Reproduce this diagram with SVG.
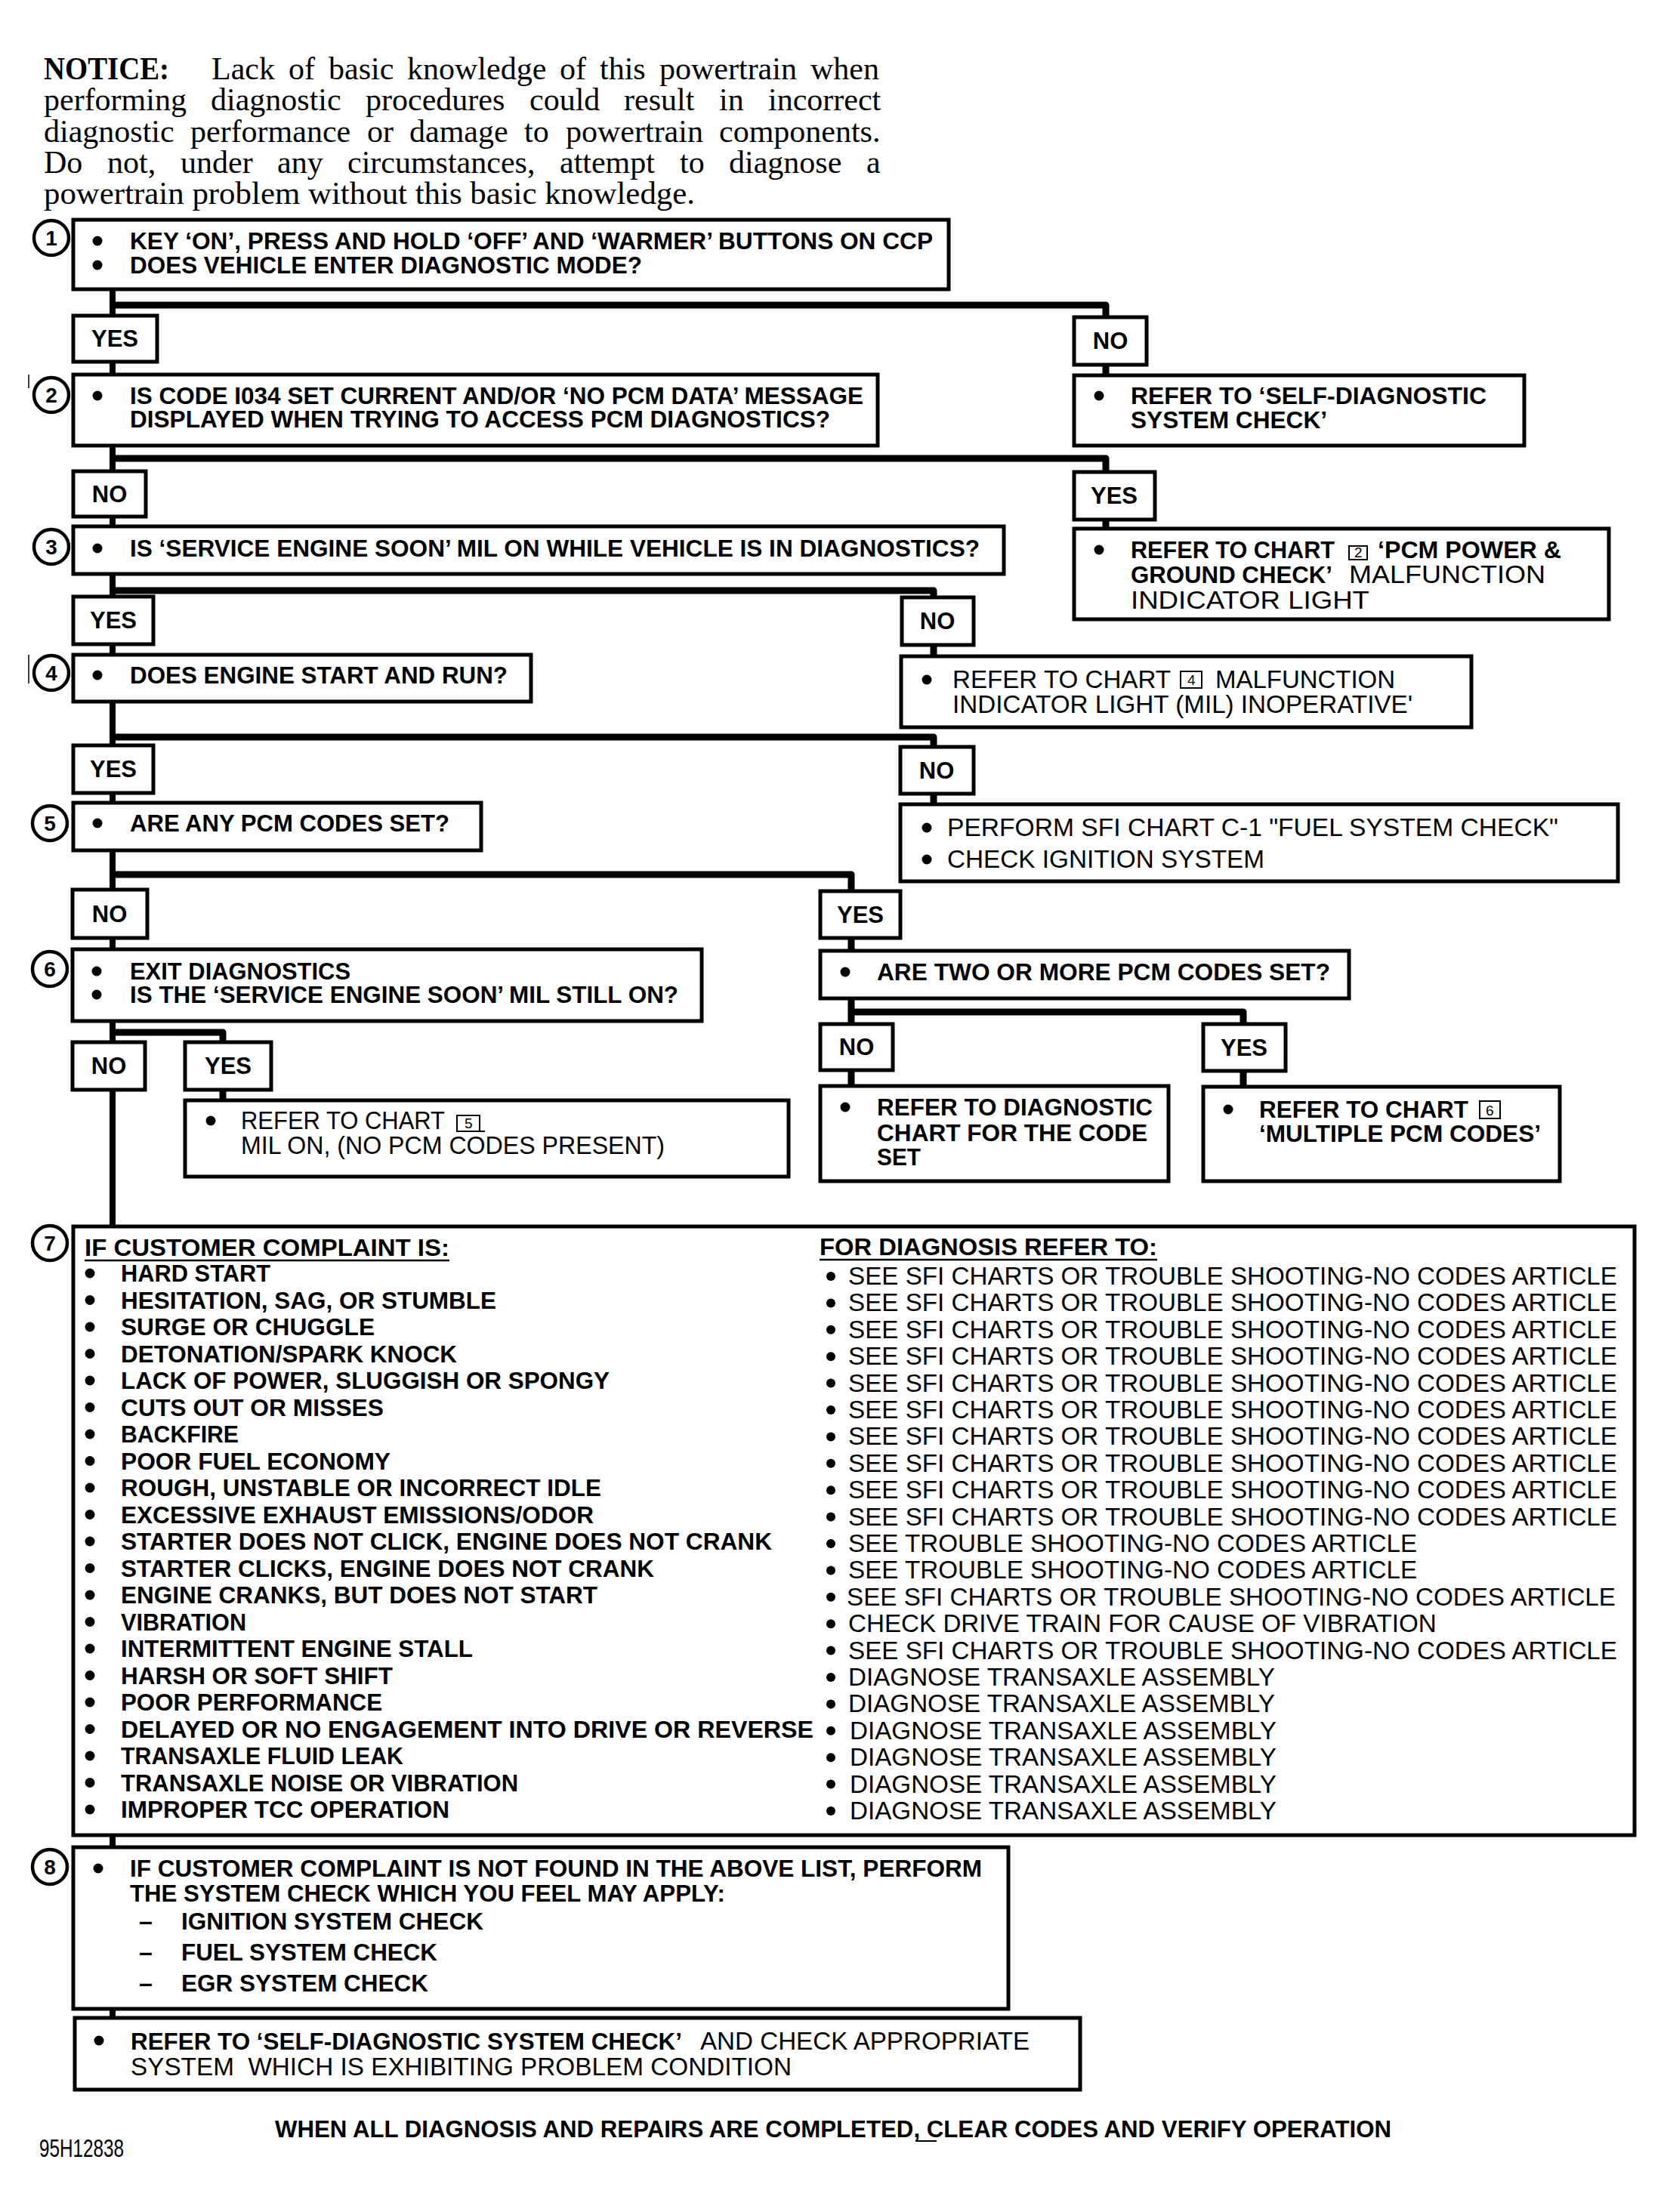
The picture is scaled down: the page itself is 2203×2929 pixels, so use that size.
<svg xmlns="http://www.w3.org/2000/svg" width="2203" height="2929" viewBox="0 0 2203 2929">
<style>
.bx{fill:#fff;stroke:#000;stroke-width:5}
.cn{fill:none;stroke:#000;stroke-width:9;stroke-linejoin:round}
.ci{fill:#fff;stroke:#000;stroke-width:4.5}
.b{font-family:"Liberation Sans",Arial,sans-serif;font-weight:bold;font-size:32px}
.r{font-family:"Liberation Sans",Arial,sans-serif;font-weight:normal;font-size:33px}
.rl{font-family:"Liberation Sans",Arial,sans-serif;font-weight:normal;font-size:33.2px}
.dg{font-family:"Liberation Sans",Arial,sans-serif;font-weight:normal;font-size:19px}
.lb{font-family:"Liberation Sans",Arial,sans-serif;font-weight:bold;font-size:31px;text-anchor:middle}
.nm{font-family:"Liberation Sans",Arial,sans-serif;font-weight:bold;font-size:28px;text-anchor:middle}
.s{font-family:"Liberation Serif","Times New Roman",serif;font-size:42px}
.sb{font-weight:bold}
.cb{fill:#fff;stroke:#000;stroke-width:2}
</style>
<rect width="2203" height="2929" fill="#fff"/>

<g id="notice">
<text class="s"><tspan class="sb" x="58" y="105" textLength="166" lengthAdjust="spacingAndGlyphs">NOTICE:</tspan><tspan x="280" y="105">Lack</tspan><tspan x="382" y="105">of</tspan><tspan x="435" y="105">basic</tspan><tspan x="539" y="105">knowledge</tspan><tspan x="741" y="105">of</tspan><tspan x="794" y="105">this</tspan><tspan x="873" y="105">powertrain</tspan><tspan x="1073" y="105">when</tspan><tspan x="58" y="146">performing</tspan><tspan x="279" y="146">diagnostic</tspan><tspan x="484" y="146">procedures</tspan><tspan x="701" y="146">could</tspan><tspan x="826" y="146">result</tspan><tspan x="952" y="146">in</tspan><tspan x="1017" y="146">incorrect</tspan><tspan x="58" y="188">diagnostic</tspan><tspan x="252" y="188">performance</tspan><tspan x="486" y="188">or</tspan><tspan x="542" y="188">damage</tspan><tspan x="694" y="188">to</tspan><tspan x="749" y="188">powertrain</tspan><tspan x="952" y="188">components.</tspan><tspan x="58" y="229">Do</tspan><tspan x="142" y="229">not,</tspan><tspan x="239" y="229">under</tspan><tspan x="367" y="229">any</tspan><tspan x="460" y="229">circumstances,</tspan><tspan x="741" y="229">attempt</tspan><tspan x="900" y="229">to</tspan><tspan x="965" y="229">diagnose</tspan><tspan x="1147" y="229">a</tspan><tspan x="58" y="270" textLength="862" lengthAdjust="spacingAndGlyphs">powertrain problem without this basic knowledge.</tspan></text>
</g>

<g id="connectors">
<path d="M149,383 V2672" fill="none" stroke="#000" stroke-width="8"/>
<path class="cn" d="M149,404 H1464 V497"/>
<path class="cn" d="M149,607 H1464 V700"/>
<path class="cn" d="M149,782 H1236 V869"/>
<path class="cn" d="M149,976 H1236 V1065"/>
<path class="cn" d="M149,1158 H1127 V1438"/>
<path class="cn" d="M1127,1340 H1646 V1439"/>
<path class="cn" d="M149,1367 H295 V1457"/>
</g>

<g id="marks">
<line x1="38" y1="496" x2="38" y2="514" stroke="#000" stroke-width="1.5"/>
<line x1="38" y1="867" x2="38" y2="905" stroke="#000" stroke-width="1.5"/>
</g>

<g id="step1">
<circle class="ci" cx="68" cy="315" r="23"/><text class="nm" x="68" y="325">1</text>
<rect class="bx" x="97" y="291" width="1159" height="92"/>
<circle cx="129" cy="319" r="6.5"/><circle cx="129" cy="351" r="6.5"/>
<text class="b"><tspan x="172" y="330" textLength="1063" lengthAdjust="spacingAndGlyphs">KEY ‘ON’, PRESS AND HOLD ‘OFF’ AND ‘WARMER’ BUTTONS ON CCP</tspan><tspan x="172" y="362" textLength="678" lengthAdjust="spacingAndGlyphs">DOES VEHICLE ENTER DIAGNOSTIC MODE?</tspan></text>
</g>
<g id="yes1"><rect class="bx" x="97" y="418" width="111" height="61"/><text class="lb" x="152" y="459">YES</text></g>
<g id="no1"><rect class="bx" x="1422" y="420" width="96" height="63"/><text class="lb" x="1470" y="462">NO</text></g>
<g id="selfdiag1">
<rect class="bx" x="1422" y="497" width="596" height="93"/>
<circle cx="1455" cy="524" r="6.5"/>
<text class="b"><tspan x="1497" y="535" textLength="471" lengthAdjust="spacingAndGlyphs">REFER TO ‘SELF-DIAGNOSTIC</tspan><tspan x="1497" y="567" textLength="260" lengthAdjust="spacingAndGlyphs">SYSTEM CHECK’</tspan></text>
</g>

<g id="step2">
<circle class="ci" cx="68" cy="523" r="23"/><text class="nm" x="68" y="533">2</text>
<rect class="bx" x="97" y="496" width="1065" height="94"/>
<circle cx="129" cy="524" r="6.5"/>
<text class="b"><tspan x="172" y="535" textLength="971" lengthAdjust="spacingAndGlyphs">IS CODE I034 SET CURRENT AND/OR ‘NO PCM DATA’ MESSAGE</tspan><tspan x="172" y="566" textLength="927" lengthAdjust="spacingAndGlyphs">DISPLAYED WHEN TRYING TO ACCESS PCM DIAGNOSTICS?</tspan></text>
</g>
<g id="no2"><rect class="bx" x="97" y="624" width="96" height="60"/><text class="lb" x="145" y="665">NO</text></g>
<g id="yes2"><rect class="bx" x="1422" y="625" width="107" height="63"/><text class="lb" x="1475" y="667">YES</text></g>
<g id="chart2">
<rect class="bx" x="1422" y="700" width="708" height="120"/>
<circle cx="1455" cy="728" r="6.5"/>
<rect class="cb" x="1786" y="723" width="24" height="18"/>
<text class="b"><tspan x="1497" y="739" textLength="270" lengthAdjust="spacingAndGlyphs">REFER TO CHART</tspan><tspan class="dg" x="1793" y="738">2</tspan><tspan x="1824" y="739" textLength="243" lengthAdjust="spacingAndGlyphs">‘PCM POWER &amp;</tspan><tspan x="1497" y="772" textLength="267" lengthAdjust="spacingAndGlyphs">GROUND CHECK’</tspan><tspan class="r" x="1786" y="772" textLength="260" lengthAdjust="spacingAndGlyphs">MALFUNCTION</tspan><tspan class="r" x="1497" y="806" textLength="316" lengthAdjust="spacingAndGlyphs">INDICATOR LIGHT</tspan></text>
</g>

<g id="step3">
<circle class="ci" cx="68" cy="724" r="23"/><text class="nm" x="68" y="734">3</text>
<rect class="bx" x="97" y="697" width="1232" height="63"/>
<circle cx="129" cy="726" r="6.5"/>
<text class="b" x="172" y="737" textLength="1125" lengthAdjust="spacingAndGlyphs">IS ‘SERVICE ENGINE SOON’ MIL ON WHILE VEHICLE IS IN DIAGNOSTICS?</text>
</g>
<g id="yes3"><rect class="bx" x="97" y="790" width="106" height="63"/><text class="lb" x="150" y="832">YES</text></g>
<g id="no3"><rect class="bx" x="1194" y="791" width="95" height="63"/><text class="lb" x="1241" y="833">NO</text></g>
<g id="chart4">
<rect class="bx" x="1193" y="869" width="755" height="94"/>
<circle cx="1227" cy="900" r="6.5"/>
<rect class="cb" x="1563" y="889" width="28" height="22"/>
<text class="r"><tspan x="1261" y="911" textLength="289" lengthAdjust="spacingAndGlyphs">REFER TO CHART</tspan><tspan class="dg" x="1572" y="907">4</tspan><tspan x="1609" y="911" textLength="238" lengthAdjust="spacingAndGlyphs">MALFUNCTION</tspan><tspan x="1261" y="944" textLength="609" lengthAdjust="spacingAndGlyphs">INDICATOR LIGHT (MIL) INOPERATIVE'</tspan></text>
</g>

<g id="step4">
<circle class="ci" cx="68" cy="891" r="23"/><text class="nm" x="68" y="901">4</text>
<rect class="bx" x="97" y="867" width="606" height="62"/>
<circle cx="129" cy="894" r="6.5"/>
<text class="b" x="172" y="905" textLength="500" lengthAdjust="spacingAndGlyphs">DOES ENGINE START AND RUN?</text>
</g>
<g id="yes4"><rect class="bx" x="97" y="987" width="106" height="63"/><text class="lb" x="150" y="1029">YES</text></g>
<g id="no4"><rect class="bx" x="1192" y="989" width="97" height="62"/><text class="lb" x="1240" y="1031">NO</text></g>
<g id="sfi">
<rect class="bx" x="1192" y="1065" width="950" height="102"/>
<circle cx="1227" cy="1096" r="6.5"/><circle cx="1227" cy="1138" r="6.5"/>
<text class="r"><tspan x="1254" y="1107" textLength="809" lengthAdjust="spacingAndGlyphs">PERFORM SFI CHART C-1 "FUEL SYSTEM CHECK"</tspan><tspan x="1254" y="1149" textLength="420" lengthAdjust="spacingAndGlyphs">CHECK IGNITION SYSTEM</tspan></text>
</g>

<g id="step5">
<circle class="ci" cx="66" cy="1090" r="23"/><text class="nm" x="66" y="1100">5</text>
<rect class="bx" x="97" y="1063" width="540" height="63"/>
<circle cx="129" cy="1090" r="6.5"/>
<text class="b" x="172" y="1101" textLength="423" lengthAdjust="spacingAndGlyphs">ARE ANY PCM CODES SET?</text>
</g>
<g id="no5"><rect class="bx" x="96" y="1178" width="99" height="64"/><text class="lb" x="145" y="1221">NO</text></g>
<g id="yes5"><rect class="bx" x="1086" y="1180" width="106" height="62"/><text class="lb" x="1139" y="1222">YES</text></g>
<g id="twoormore">
<rect class="bx" x="1086" y="1259" width="700" height="63"/>
<circle cx="1119" cy="1287" r="6.5"/>
<text class="b" x="1161" y="1298" textLength="600" lengthAdjust="spacingAndGlyphs">ARE TWO OR MORE PCM CODES SET?</text>
</g>

<g id="step6">
<circle class="ci" cx="66" cy="1283" r="23"/><text class="nm" x="66" y="1293">6</text>
<rect class="bx" x="96" y="1257" width="833" height="95"/>
<circle cx="128" cy="1286" r="6.5"/><circle cx="128" cy="1317" r="6.5"/>
<text class="b"><tspan x="172" y="1297" textLength="292" lengthAdjust="spacingAndGlyphs">EXIT DIAGNOSTICS</tspan><tspan x="172" y="1328" textLength="726" lengthAdjust="spacingAndGlyphs">IS THE ‘SERVICE ENGINE SOON’ MIL STILL ON?</tspan></text>
</g>
<g id="no6"><rect class="bx" x="96" y="1380" width="96" height="63"/><text class="lb" x="144" y="1422">NO</text></g>
<g id="yes6"><rect class="bx" x="245" y="1380" width="114" height="63"/><text class="lb" x="302" y="1422">YES</text></g>
<g id="no7"><rect class="bx" x="1086" y="1356" width="96" height="61"/><text class="lb" x="1134" y="1397">NO</text></g>
<g id="yes7"><rect class="bx" x="1593" y="1356" width="109" height="62"/><text class="lb" x="1647" y="1398">YES</text></g>
<g id="chart5">
<rect class="bx" x="245" y="1457" width="799" height="101"/>
<circle cx="279" cy="1484" r="6.5"/>
<rect class="cb" x="605" y="1477" width="30" height="21"/>
<line x1="635" y1="1498" x2="642" y2="1498" stroke="#000" stroke-width="2"/>
<text class="r"><tspan x="319" y="1495" textLength="270" lengthAdjust="spacingAndGlyphs">REFER TO CHART</tspan><tspan class="dg" x="615" y="1494">5</tspan><tspan x="319" y="1528" textLength="561" lengthAdjust="spacingAndGlyphs">MIL ON, (NO PCM CODES PRESENT)</tspan></text>
</g>
<g id="diagchart">
<rect class="bx" x="1086" y="1438" width="461" height="126"/>
<circle cx="1119" cy="1466" r="6.5"/>
<text class="b"><tspan x="1161" y="1477" textLength="365" lengthAdjust="spacingAndGlyphs">REFER TO DIAGNOSTIC</tspan><tspan x="1161" y="1511" textLength="358" lengthAdjust="spacingAndGlyphs">CHART FOR THE CODE</tspan><tspan x="1161" y="1543" textLength="58" lengthAdjust="spacingAndGlyphs">SET</tspan></text>
</g>
<g id="chart6">
<rect class="bx" x="1593" y="1439" width="472" height="125"/>
<circle cx="1626" cy="1469" r="6.5"/>
<rect class="cb" x="1959" y="1458" width="27" height="23"/>
<text class="b"><tspan x="1667" y="1480" textLength="277" lengthAdjust="spacingAndGlyphs">REFER TO CHART</tspan><tspan class="dg" x="1967" y="1477">6</tspan><tspan x="1667" y="1512" textLength="373" lengthAdjust="spacingAndGlyphs">‘MULTIPLE PCM CODES’</tspan></text>
</g>

<g id="step7">
<circle class="ci" cx="66" cy="1646" r="23"/><text class="nm" x="66" y="1656">7</text>
<rect class="bx" x="97" y="1624" width="2067" height="806"/>
<line x1="112" y1="1669" x2="595" y2="1669" stroke="#000" stroke-width="2.5"/>
<line x1="1085" y1="1668" x2="1532" y2="1668" stroke="#000" stroke-width="2.5"/>
<g id="bullets7">
<circle cx="119" cy="1686" r="6.5"/><circle cx="119" cy="1721.5" r="6.5"/><circle cx="119" cy="1757" r="6.5"/><circle cx="119" cy="1792.5" r="6.5"/><circle cx="119" cy="1828" r="6.5"/><circle cx="119" cy="1863.5" r="6.5"/><circle cx="119" cy="1899" r="6.5"/><circle cx="119" cy="1934.5" r="6.5"/><circle cx="119" cy="1970" r="6.5"/><circle cx="119" cy="2005.5" r="6.5"/><circle cx="119" cy="2041" r="6.5"/><circle cx="119" cy="2076.5" r="6.5"/><circle cx="119" cy="2112" r="6.5"/><circle cx="119" cy="2147.5" r="6.5"/><circle cx="119" cy="2183" r="6.5"/><circle cx="119" cy="2218.5" r="6.5"/><circle cx="119" cy="2254" r="6.5"/><circle cx="119" cy="2289.5" r="6.5"/><circle cx="119" cy="2325" r="6.5"/><circle cx="119" cy="2360.5" r="6.5"/><circle cx="119" cy="2396" r="6.5"/>
<circle cx="1100" cy="1690" r="6"/><circle cx="1100" cy="1725.4" r="6"/><circle cx="1100" cy="1760.8" r="6"/><circle cx="1100" cy="1796.2" r="6"/><circle cx="1100" cy="1831.6" r="6"/><circle cx="1100" cy="1867" r="6"/><circle cx="1100" cy="1902.4" r="6"/><circle cx="1100" cy="1937.8" r="6"/><circle cx="1100" cy="1973.2" r="6"/><circle cx="1100" cy="2008.6" r="6"/><circle cx="1100" cy="2044" r="6"/><circle cx="1100" cy="2079.4" r="6"/><circle cx="1100" cy="2114.8" r="6"/><circle cx="1100" cy="2150.2" r="6"/><circle cx="1100" cy="2185.6" r="6"/><circle cx="1100" cy="2221" r="6"/><circle cx="1100" cy="2256.4" r="6"/><circle cx="1100" cy="2291.8" r="6"/><circle cx="1100" cy="2327.2" r="6"/><circle cx="1100" cy="2362.6" r="6"/><circle cx="1100" cy="2398" r="6"/>
</g>
<text id="complaints" class="b"><tspan x="112" y="1663" textLength="483" lengthAdjust="spacingAndGlyphs">IF CUSTOMER COMPLAINT IS:</tspan><tspan x="160" y="1697" textLength="198" lengthAdjust="spacingAndGlyphs">HARD START</tspan><tspan x="160" y="1732.5" textLength="497" lengthAdjust="spacingAndGlyphs">HESITATION, SAG, OR STUMBLE</tspan><tspan x="160" y="1768" textLength="336" lengthAdjust="spacingAndGlyphs">SURGE OR CHUGGLE</tspan><tspan x="160" y="1803.5" textLength="445" lengthAdjust="spacingAndGlyphs">DETONATION/SPARK KNOCK</tspan><tspan x="160" y="1839" textLength="647" lengthAdjust="spacingAndGlyphs">LACK OF POWER, SLUGGISH OR SPONGY</tspan><tspan x="160" y="1874.5" textLength="348" lengthAdjust="spacingAndGlyphs">CUTS OUT OR MISSES</tspan><tspan x="160" y="1910" textLength="156" lengthAdjust="spacingAndGlyphs">BACKFIRE</tspan><tspan x="160" y="1945.5" textLength="357" lengthAdjust="spacingAndGlyphs">POOR FUEL ECONOMY</tspan><tspan x="160" y="1981" textLength="636" lengthAdjust="spacingAndGlyphs">ROUGH, UNSTABLE OR INCORRECT IDLE</tspan><tspan x="160" y="2016.5" textLength="626" lengthAdjust="spacingAndGlyphs">EXCESSIVE EXHAUST EMISSIONS/ODOR</tspan><tspan x="160" y="2052" textLength="862" lengthAdjust="spacingAndGlyphs">STARTER DOES NOT CLICK, ENGINE DOES NOT CRANK</tspan><tspan x="160" y="2087.5" textLength="706" lengthAdjust="spacingAndGlyphs">STARTER CLICKS, ENGINE DOES NOT CRANK</tspan><tspan x="160" y="2123" textLength="631" lengthAdjust="spacingAndGlyphs">ENGINE CRANKS, BUT DOES NOT START</tspan><tspan x="160" y="2158.5" textLength="166" lengthAdjust="spacingAndGlyphs">VIBRATION</tspan><tspan x="160" y="2194" textLength="466" lengthAdjust="spacingAndGlyphs">INTERMITTENT ENGINE STALL</tspan><tspan x="160" y="2229.5" textLength="360" lengthAdjust="spacingAndGlyphs">HARSH OR SOFT SHIFT</tspan><tspan x="160" y="2265" textLength="346" lengthAdjust="spacingAndGlyphs">POOR PERFORMANCE</tspan><tspan x="160" y="2300.5" textLength="917" lengthAdjust="spacingAndGlyphs">DELAYED OR NO ENGAGEMENT INTO DRIVE OR REVERSE</tspan><tspan x="160" y="2336" textLength="374" lengthAdjust="spacingAndGlyphs">TRANSAXLE FLUID LEAK</tspan><tspan x="160" y="2371.5" textLength="526" lengthAdjust="spacingAndGlyphs">TRANSAXLE NOISE OR VIBRATION</tspan><tspan x="160" y="2407" textLength="435" lengthAdjust="spacingAndGlyphs">IMPROPER TCC OPERATION</tspan></text>
<text id="remedies" class="rl"><tspan class="b" x="1085" y="1662" textLength="447" lengthAdjust="spacingAndGlyphs">FOR DIAGNOSIS REFER TO:</tspan><tspan x="1123" y="1701">SEE SFI CHARTS OR TROUBLE SHOOTING-NO CODES ARTICLE</tspan><tspan x="1123" y="1736.4">SEE SFI CHARTS OR TROUBLE SHOOTING-NO CODES ARTICLE</tspan><tspan x="1123" y="1771.8">SEE SFI CHARTS OR TROUBLE SHOOTING-NO CODES ARTICLE</tspan><tspan x="1123" y="1807.2">SEE SFI CHARTS OR TROUBLE SHOOTING-NO CODES ARTICLE</tspan><tspan x="1123" y="1842.6">SEE SFI CHARTS OR TROUBLE SHOOTING-NO CODES ARTICLE</tspan><tspan x="1123" y="1878">SEE SFI CHARTS OR TROUBLE SHOOTING-NO CODES ARTICLE</tspan><tspan x="1123" y="1913.4">SEE SFI CHARTS OR TROUBLE SHOOTING-NO CODES ARTICLE</tspan><tspan x="1123" y="1948.8">SEE SFI CHARTS OR TROUBLE SHOOTING-NO CODES ARTICLE</tspan><tspan x="1123" y="1984.2">SEE SFI CHARTS OR TROUBLE SHOOTING-NO CODES ARTICLE</tspan><tspan x="1123" y="2019.6">SEE SFI CHARTS OR TROUBLE SHOOTING-NO CODES ARTICLE</tspan><tspan x="1123" y="2055">SEE TROUBLE SHOOTING-NO CODES ARTICLE</tspan><tspan x="1123" y="2090.4">SEE TROUBLE SHOOTING-NO CODES ARTICLE</tspan><tspan x="1121" y="2125.8">SEE SFI CHARTS OR TROUBLE SHOOTING-NO CODES ARTICLE</tspan><tspan x="1123" y="2161.2">CHECK DRIVE TRAIN FOR CAUSE OF VIBRATION</tspan><tspan x="1123" y="2196.6">SEE SFI CHARTS OR TROUBLE SHOOTING-NO CODES ARTICLE</tspan><tspan x="1123" y="2232">DIAGNOSE TRANSAXLE ASSEMBLY</tspan><tspan x="1123" y="2267.4">DIAGNOSE TRANSAXLE ASSEMBLY</tspan><tspan x="1125" y="2302.8">DIAGNOSE TRANSAXLE ASSEMBLY</tspan><tspan x="1125" y="2338.2">DIAGNOSE TRANSAXLE ASSEMBLY</tspan><tspan x="1125" y="2373.6">DIAGNOSE TRANSAXLE ASSEMBLY</tspan><tspan x="1125" y="2409">DIAGNOSE TRANSAXLE ASSEMBLY</tspan></text>
</g>

<g id="step8">
<circle class="ci" cx="66" cy="2472" r="23"/><text class="nm" x="66" y="2482">8</text>
<rect class="bx" x="97" y="2446" width="1238" height="214"/>
<circle cx="130" cy="2474" r="6.5"/>
<text class="b"><tspan x="172" y="2485" textLength="1128" lengthAdjust="spacingAndGlyphs">IF CUSTOMER COMPLAINT IS NOT FOUND IN THE ABOVE LIST, PERFORM</tspan><tspan x="172" y="2518" textLength="788" lengthAdjust="spacingAndGlyphs">THE SYSTEM CHECK WHICH YOU FEEL MAY APPLY:</tspan><tspan x="184" y="2555">–</tspan><tspan x="240" y="2555" textLength="400" lengthAdjust="spacingAndGlyphs">IGNITION SYSTEM CHECK</tspan><tspan x="184" y="2596">–</tspan><tspan x="240" y="2596" textLength="339" lengthAdjust="spacingAndGlyphs">FUEL SYSTEM CHECK</tspan><tspan x="184" y="2637">–</tspan><tspan x="240" y="2637" textLength="327" lengthAdjust="spacingAndGlyphs">EGR SYSTEM CHECK</tspan></text>
</g>
<g id="final">
<rect class="bx" x="99" y="2672" width="1331" height="95"/>
<circle cx="131" cy="2702" r="6.5"/>
<text class="b"><tspan x="173" y="2714" textLength="730" lengthAdjust="spacingAndGlyphs">REFER TO ‘SELF-DIAGNOSTIC SYSTEM CHECK’</tspan><tspan class="r" x="927" y="2714" textLength="436" lengthAdjust="spacingAndGlyphs">AND CHECK APPROPRIATE</tspan><tspan class="r" x="173" y="2748" textLength="875" lengthAdjust="spacingAndGlyphs">SYSTEM&#160; WHICH IS EXHIBITING PROBLEM CONDITION</tspan></text>
</g>

<g id="footer">
<text class="b" x="364" y="2830" font-size="30" textLength="1478" lengthAdjust="spacingAndGlyphs">WHEN ALL DIAGNOSIS AND REPAIRS ARE COMPLETED, CLEAR CODES AND VERIFY OPERATION</text>
<line x1="1212" y1="2835" x2="1240" y2="2835" stroke="#000" stroke-width="2"/>
<text class="r" x="52" y="2856" font-size="21" textLength="112" lengthAdjust="spacingAndGlyphs">95H12838</text>
</g>
</svg>
